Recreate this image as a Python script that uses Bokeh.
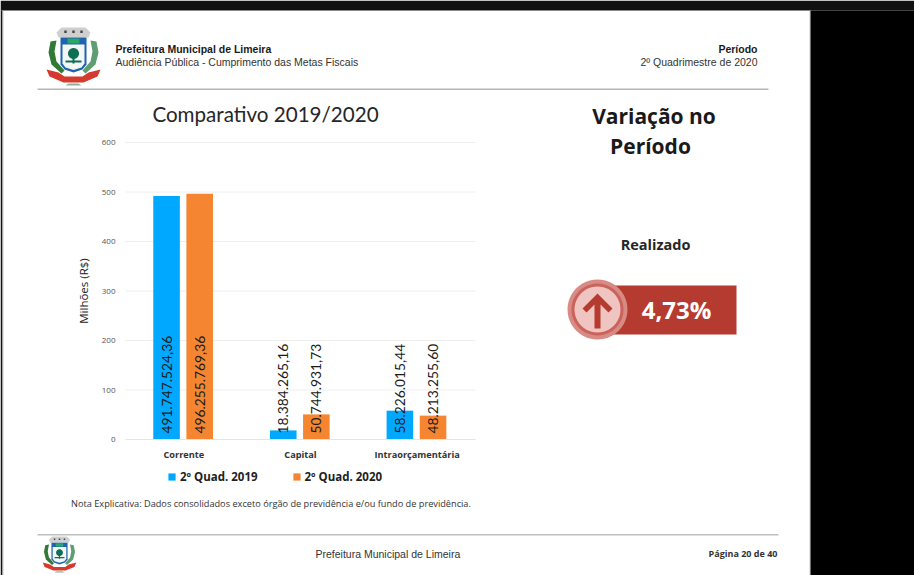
import math
from bokeh.embed import file_html
from bokeh.resources import INLINE
from bokeh.models import Range1d, Legend, LegendItem, ColumnDataSource, LinearAxis
from bokeh.plotting import figure
from bokeh.transform import dodge
from bokeh.core.properties import value

categories = ["Corrente", "Capital", "Intraorçamentária"]
series_names = ["2º Quad. 2019", "2º Quad. 2020"]
values_2019 = [491.74752436, 18.38426516, 58.22601544]
values_2020 = [496.25576936, 50.74493173, 48.21325560]
labels_2019 = ["491.747.524,36", "18.384.265,16", "58.226.015,44"]
labels_2020 = ["496.255.769,36", "50.744.931,73", "48.213.255,60"]
y_ticks = [0, 100, 200, 300, 400, 500, 600]

BLUE = "#00A8FF"
ORANGE = "#F58530"
W, H = 914, 575
# plot area inside the page, in pixels
PL, PR, PT, PB = 125, 475, 142, 439
VMAX = 600
NCAT = len(categories)

# The frame fills the page: the default ranges are the page's pixels; the chart has its own ranges.
cat_unit = (PR - PL) / NCAT
val_unit = (PB - PT) / VMAX
p = figure(width=W, height=H, x_range=Range1d(0, W), y_range=Range1d(H, 0), x_axis_type=None, y_axis_type=None,
           output_backend="svg", toolbar_location=None, min_border=0, outline_line_color=None,
           border_fill_color="#FFFFFF", background_fill_color="#FFFFFF")
p.extra_x_ranges["cat"] = Range1d(-PL / cat_unit, (W - PL) / cat_unit)
p.extra_y_ranges["val"] = Range1d(-(H - PB) / val_unit, PB / val_unit)


def box(x0, y0, x1, y1, color):
    p.quad(left=[x0], right=[x1], top=[y0], bottom=[y1], fill_color=color, line_color=None)


def poly(pts, color):
    p.patch([a for a, _ in pts], [b for _, b in pts], fill_color=color, line_color=None)


def circle(cx, cy, r, color):
    poly([(cx + r * math.cos(i * math.pi / 24), cy + r * math.sin(i * math.pi / 24)) for i in range(48)], color)


def txt(x, y, s, size, font="Liberation Sans", style="normal", color="#222222", align="left"):
    p.text(x=[x], y=[y - 1], text=[s], text_font=value(font), text_font_size=value(f"{size}px"),
           text_font_style=style, text_color=color, text_align=align, text_baseline="middle")


def crest(cx, cy, k):
    for sgn, col in ((-1, "#2F7A35"), (1, "#5E9E70")):
        poly([(cx + sgn * k * a, cy + k * b) for a, b in
              [(17, -16), (23, -15), (25, -4), (22, 8), (12, 17), (9, 14), (17, 5), (19, -5)]], col)
    poly([(cx + k * a, cy + k * b) for a, b in
          [(-17, -24), (-12, -29), (12, -29), (17, -24), (15, -19), (-15, -19)]], "#CFCFCF")
    for dx in (-8, 0, 8):
        box(cx + k * (dx - 1.2), cy - k * 26, cx + k * (dx + 1.2), cy - k * 23.5, "#444444")
    poly([(cx + k * a, cy + k * b) for a, b in
          [(-13, -19), (13, -19), (13, 8), (9, 13), (0, 16), (-9, 13), (-13, 8)]], "#1E63AE")
    poly([(cx + k * a, cy + k * b) for a, b in
          [(-11, -12), (11, -12), (11, 7), (8, 11), (0, 13.5), (-8, 11), (-11, 7)]], "#F4F6F4")
    box(cx - k * 6, cy - k * 18, cx + k * 6, cy - k * 13, "#2AA66A")
    circle(cx, cy - k * 3, k * 5.5, "#0F6F55")
    box(cx - k * 1, cy - k * 2, cx + k * 1, cy + k * 7, "#0F6F55")
    box(cx - k * 8, cy + k * 4, cx + k * 8, cy + k * 6, "#0F6F55")
    poly([(cx + k * a, cy + k * b) for a, b in
          [(-27, 13), (-15, 16), (-9, 20), (9, 20), (15, 16), (27, 13), (24, 20), (10, 26), (-10, 26),
           (-24, 20)]], "#D43A2E")
    poly([(cx + k * a, cy + k * b) for a, b in [(-5, 27), (5, 27), (8, 29), (-8, 29)]], "#8FB09A")


# ---- surround of the slide
box(0, 0, W, 10, "#111111")
box(0, 10, 2, H, "#111111")
box(2, 10, 3, H, "#C8C8C8")
box(809, 10, 810, H, "#C8C8C8")
box(810, 10, W, H, "#000000")

# ---- header
crest(73, 56, 1.0)
txt(115, 49, "Prefeitura Municipal de Limeira", 10.5, style="bold", color="#1A1A1A")
txt(115, 62, "Audiência Pública - Cumprimento das Metas Fiscais", 10.5, color="#333333")
txt(757, 49, "Período", 10.5, style="bold", color="#1A1A1A", align="right")
txt(757, 62, "2º Quadrimestre de 2020", 10.5, color="#333333", align="right")
box(37, 88, 768, 89.5, "#B5B5B5")

# ---- footer
txt(70.5, 504, "Nota Explicativa: Dados consolidados exceto órgão de previdência e/ou fundo de previdência.",
    9.2, "Open Sans", color="#333333")
box(37, 533.5, 778, 535, "#C0C0C0")
crest(59, 554, 0.62)
txt(315, 554, "Prefeitura Municipal de Limeira", 10.5, color="#333333")
txt(777, 554, "Página 20 de 40", 9, "Open Sans", "bold", "#333333", "right")

# ---- right panel
txt(653.5, 116, "Variação no", 21, "Open Sans", "bold", "#1A1A1A", "center")
txt(650, 146, "Período", 21, "Open Sans", "bold", "#1A1A1A", "center")
txt(655, 245, "Realizado", 14.5, "Open Sans", "bold", "#262626", "center")
box(612, 285, 736, 334, "#B53A30")
circle(597, 309, 30, "#D98A84")
circle(597, 309, 26, "#C9635C")
circle(597, 309, 23, "#F0C4C0")
poly([(597, 293), (612, 308), (608, 312), (600, 304), (600, 328), (594, 328), (594, 304), (586, 312), (582, 308)],
     "#B53A30")
txt(676, 310, "4,73%", 24, "Open Sans", "bold", "#FFFFFF", "center")

# ---- chart
txt(265, 114, "Comparativo 2019/2020", 20.6, "Lato", color="#262626", align="center")

p.segment(x0=[PL] * len(y_ticks), x1=[PR] * len(y_ticks), y0=y_ticks, y1=y_ticks, y_range_name="val",
          line_color="#EEEEEE", line_width=1)

cat_x = [i + 0.5 for i in range(NCAT)]
src = ColumnDataSource(dict(x=cat_x, a=values_2019, b=values_2020, la=labels_2019, lb=labels_2020,
                            zero=[0] * NCAT))
OFFSET = 0.142
SHIFT = -0.006
BW = 0.228
r1 = p.vbar(x=dodge("x", SHIFT - OFFSET), top="a", width=BW, source=src, color=BLUE, line_color=None,
            x_range_name="cat", y_range_name="val")
r2 = p.vbar(x=dodge("x", SHIFT + OFFSET), top="b", width=BW, source=src, color=ORANGE, line_color=None,
            x_range_name="cat", y_range_name="val")
for col, d in (("la", -OFFSET), ("lb", OFFSET)):
    p.text(x=dodge("x", SHIFT + d), y="zero", text=col, source=src, angle=math.pi / 2,
           text_align="left", text_baseline="middle", y_offset=-6, text_font=value("Lato"),
           text_font_size="13.8px", text_color="#1A1A1A", x_range_name="cat", y_range_name="val")

yax = LinearAxis(y_range_name="val", fixed_location=PL, bounds=(0, VMAX))
yax.ticker = y_ticks
yax.axis_line_color = None
yax.major_tick_line_color = None
yax.minor_tick_line_color = None
yax.major_label_text_font = "Open Sans"
yax.major_label_text_font_size = "8px"
yax.major_label_text_color = "#555555"
yax.major_label_standoff = 4
yax.axis_label = "Milhões (R$)"
yax.axis_label_text_font = "Open Sans"
yax.axis_label_text_font_size = "11.5px"
yax.axis_label_text_font_style = "normal"
yax.axis_label_text_color = "#222222"
yax.axis_label_standoff = 8
p.add_layout(yax, "left")

xax = LinearAxis(x_range_name="cat", fixed_location=PB, bounds=(0, NCAT))
xax.ticker = cat_x
xax.major_label_overrides = {v: c for v, c in zip(cat_x, categories)}
xax.axis_line_color = "#E4E4E4"
xax.major_tick_line_color = None
xax.minor_tick_line_color = None
xax.major_label_text_font = "Open Sans"
xax.major_label_text_font_size = "9.2px"
xax.major_label_text_font_style = "bold"
xax.major_label_text_color = "#333333"
xax.major_label_standoff = 2
p.add_layout(xax, "below")

legend = Legend(items=[LegendItem(label=series_names[0], renderers=[r1]),
                       LegendItem(label=series_names[1], renderers=[r2])],
                orientation="horizontal", location=(167, H - 477 - 7), background_fill_alpha=0, border_line_color=None,
                label_text_font="Open Sans", label_text_font_size="11.5px", label_text_font_style="bold",
                label_text_color="#222222", glyph_width=9, glyph_height=9, spacing=34, margin=0, padding=0,
                label_standoff=4)
p.add_layout(legend, "center")

open("out.html", "w").write(file_html(p, INLINE))
